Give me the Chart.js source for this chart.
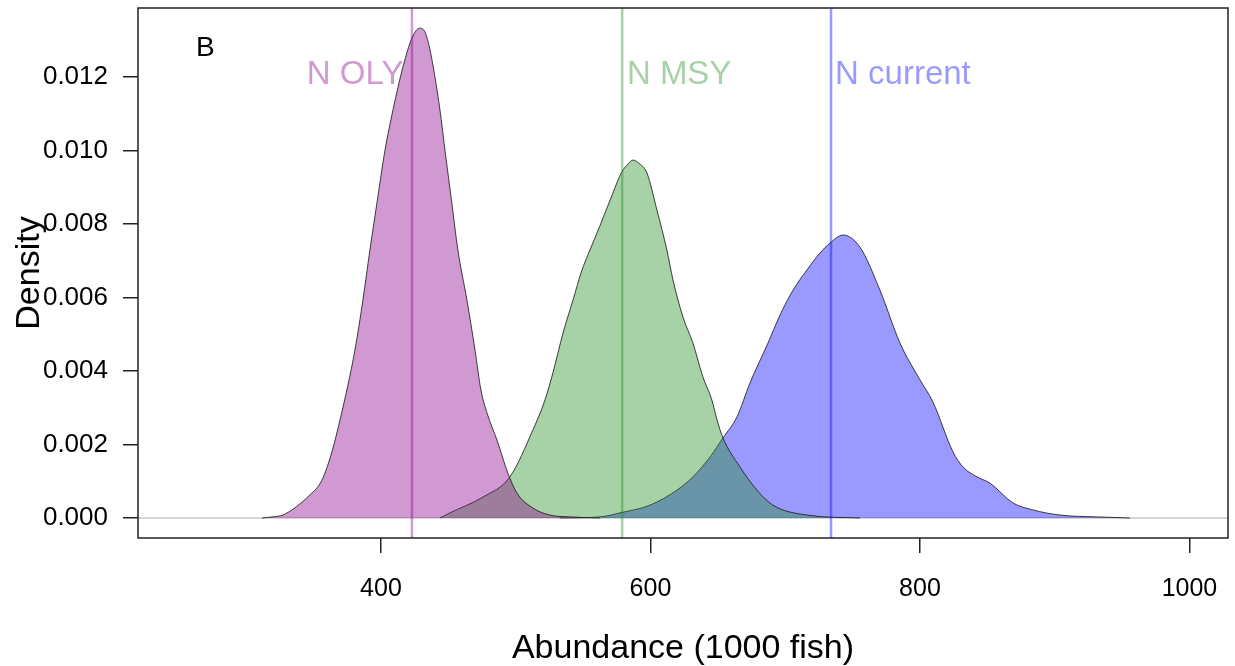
<!DOCTYPE html>
<html>
<head>
<meta charset="utf-8">
<title>Abundance density</title>
<script src="https://cdn.jsdelivr.net/npm/chart.js@4/dist/chart.umd.min.js"></script>
<style>
  html, body { margin: 0; padding: 0; background: #fff; }
  #chart { display: block; }
</style>
</head>
<body>
<canvas id="chart" width="1235" height="666"></canvas>
<script>
// Posterior densities of abundance (1000 fish)
var olyX = [311.7, 323.6, 327.3, 347.3, 356.2, 363.6, 369.6, 375.5, 380.7, 386.6, 391.8, 397.0,
  403.0, 408.9, 416.3, 423.0, 428.9, 432.7, 436.4, 443.8, 447.5, 452.7, 457.1, 463.8, 469.8, 474.2,
  478.7, 486.1, 494.2, 500.9, 512.8, 525.4, 540.3, 562.5];
var olyY = [0, 0.00005, 0.00008, 0.00063, 0.00103, 0.00180, 0.00267, 0.00362, 0.00457, 0.00593,
  0.00729, 0.00857, 0.01001, 0.01110, 0.01227, 0.01306, 0.01333, 0.01322, 0.01274, 0.01110, 0.01001,
  0.00854, 0.00729, 0.00593, 0.00457, 0.00348, 0.00286, 0.00212, 0.00122, 0.00068, 0.00027, 0.00008,
  0.00003, 0];

var msyX = [443.8, 451.2, 475.7, 495.7, 512.8, 521.7, 527.6, 535.1, 542.5, 549.2, 553.6, 562.5, 570.7,
  578.8, 583.3, 587.0, 592.2, 597.4, 604.8, 612.2, 616.7, 624.1, 631.5, 638.9, 645.6, 649.4, 653.8,
  666.4, 679.0, 690.9, 716.1, 755.5];
var msyY = [0, 0.00014, 0.00057, 0.00112, 0.00240, 0.00321, 0.00395, 0.00503, 0.00593, 0.00675, 0.00716,
  0.00795, 0.00871, 0.00942, 0.00963, 0.00974, 0.00963, 0.00939, 0.00838, 0.00729, 0.00648, 0.00547,
  0.00476, 0.00384, 0.00321, 0.00267, 0.00218, 0.00139, 0.00076, 0.00035, 0.00008, 0];

var curX = [532.8, 562.5, 577.4, 599.6, 619.7, 631.5, 644.2, 653.8, 664.2, 673.8, 687.2, 696.1, 705.8,
  716.1, 725.8, 733.2, 742.9, 755.5, 770.3, 785.2, 800.0, 809.6, 824.5, 831.9, 842.3, 851.9, 869.0,
  883.9, 903.9, 931.4, 955.8];
var curY = [0, 0.00003, 0.00014, 0.00035, 0.00076, 0.00112, 0.00166, 0.00218, 0.00275, 0.00367, 0.00476,
  0.00552, 0.00620, 0.00675, 0.00721, 0.00748, 0.00770, 0.00737, 0.00620, 0.00476, 0.00376, 0.00316,
  0.00180, 0.00139, 0.00112, 0.00095, 0.00041, 0.00022, 0.00008, 0.00003, 0];

// reference points and their labels
var refNames = ['N OLY', 'N MSY', 'N current'];
var refValues = [423, 579, 734];
var refLabelX = [345, 582.5, 737];
var refLabelY = 0.01207;
var panelTag = 'B';
var panelTagX = 262.7;
var panelTagY = 0.01279;

var xTicks = [400, 600, 800, 1000];
var yTicks = [0, 0.002, 0.004, 0.006, 0.008, 0.010, 0.012];
var xRange = [219.7, 1028.6];
var yRange = [-0.000544, 0.013878];

var fillColors = ['rgba(139,0,139,0.4)', 'rgba(34,139,34,0.4)', 'rgba(0,0,255,0.4)'];
var outline = 'rgba(30,30,30,0.85)';
var fontFamily = '"Liberation Sans", Arial, sans-serif';

function pairs(xs, ys) {
  return xs.map(function(x, i) { return { x: x, y: ys[i] }; });
}

function densitySet(xs, ys, color) {
  return {
    data: pairs(xs, ys),
    borderColor: outline,
    borderWidth: 1,
    backgroundColor: color,
    fill: 'origin',
    pointRadius: 0,
    cubicInterpolationMode: 'monotone'
  };
}

function refLine(value, color) {
  return {
    data: [{ x: value, y: yRange[0] }, { x: value, y: yRange[1] }],
    borderColor: color,
    borderWidth: 2.5,
    fill: false,
    pointRadius: 0
  };
}

// first dataset is drawn last, so the lines sit on top of the fills
var datasets = [];
refValues.forEach(function(v, i) { datasets.push(refLine(v, fillColors[i])); });
datasets.push(densitySet(olyX, olyY, fillColors[0]));
datasets.push(densitySet(msyX, msyY, fillColors[1]));
datasets.push(densitySet(curX, curY, fillColors[2]));
datasets.push({
  data: [{ x: xRange[0], y: 0 }, { x: xRange[1], y: 0 }],
  borderColor: '#c8c8c8',
  borderWidth: 1.5,
  fill: false,
  pointRadius: 0
});

// box around the plot, the reference labels and the panel letter
var annotate = {
  id: 'annotate',
  afterDatasetsDraw: function(chart) {
    var ctx = chart.ctx;
    var area = chart.chartArea;
    var xs = chart.scales.x;
    var ys = chart.scales.y;
    ctx.save();
    ctx.strokeStyle = '#222';
    ctx.lineWidth = 1.5;
    ctx.strokeRect(area.left, area.top, area.right - area.left, area.bottom - area.top);
    ctx.textAlign = 'left';
    ctx.textBaseline = 'middle';
    ctx.font = '33px ' + fontFamily;
    refNames.forEach(function(name, i) {
      ctx.fillStyle = fillColors[i];
      ctx.fillText(name, xs.getPixelForValue(refLabelX[i]), ys.getPixelForValue(refLabelY));
    });
    ctx.font = '28px ' + fontFamily;
    ctx.fillStyle = '#000';
    ctx.fillText(panelTag, xs.getPixelForValue(panelTagX), ys.getPixelForValue(panelTagY));
    ctx.restore();
  }
};

var axisGrid = {
  drawOnChartArea: false,
  drawTicks: true,
  tickLength: 15,
  tickColor: '#222',
  lineWidth: 1.5
};

// fixed axis sizes; drop the extra room the scales reserve for edge labels
function fixSize(prop, size) {
  return function(scale) {
    scale[prop] = size;
    scale.paddingTop = 0;
    scale.paddingBottom = 0;
    scale.paddingLeft = 0;
    scale.paddingRight = 0;
  };
}

new Chart(document.getElementById('chart'), {
  type: 'line',
  data: { datasets: datasets },
  plugins: [annotate],
  options: {
    responsive: false,
    animation: false,
    layout: { padding: { top: 8, right: 7, left: 0, bottom: 0 } },
    plugins: {
      legend: { display: false },
      tooltip: { enabled: false }
    },
    scales: {
      x: {
        type: 'linear',
        min: xRange[0],
        max: xRange[1],
        afterBuildTicks: function(scale) {
          scale.ticks = xTicks.map(function(v) { return { value: v }; });
        },
        afterFit: fixSize('height', 128),
        grid: axisGrid,
        border: { display: false },
        ticks: {
          color: '#000',
          font: { family: fontFamily, size: 25 },
          padding: 21,
          maxRotation: 0,
          callback: function(v) { return String(v); }
        },
        title: {
          display: true,
          text: 'Abundance (1000 fish)',
          color: '#000',
          font: { family: fontFamily, size: 34, lineHeight: 1 },
          padding: 0
        }
      },
      y: {
        type: 'linear',
        min: yRange[0],
        max: yRange[1],
        afterBuildTicks: function(scale) {
          scale.ticks = yTicks.map(function(v) { return { value: v }; });
        },
        afterFit: fixSize('width', 138),
        grid: axisGrid,
        border: { display: false },
        ticks: {
          color: '#000',
          font: { family: fontFamily, size: 26 },
          padding: 15,
          callback: function(v) { return v.toFixed(3); }
        },
        title: {
          display: true,
          text: 'Density',
          color: '#000',
          font: { family: fontFamily, size: 34, lineHeight: 1.2 },
          padding: { top: 9, bottom: 0 }
        }
      }
    }
  }
});
</script>
</body>
</html>
